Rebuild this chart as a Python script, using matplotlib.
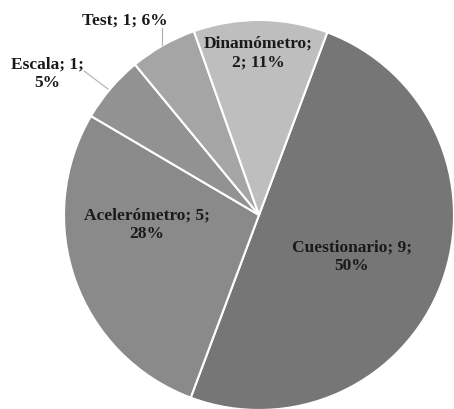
import matplotlib
matplotlib.use("Agg")
import matplotlib.pyplot as plt

categories = ["Cuestionario", "Acelerómetro", "Escala", "Test", "Dinamómetro"]
values = [9, 5, 1, 1, 2]
pct_labels = ["50%", "28%", "5%", "6%", "11%"]
colors = ["#767676", "#8a8a8a", "#929292", "#a5a5a5", "#bebebe"]

W, H = 454, 409
fig = plt.figure(figsize=(W / 100, H / 100), dpi=100)
cx, cy, R = 259, 215, 195
ax = fig.add_axes([(cx - R) / W, (H - cy - R) / H, 2 * R / W, 2 * R / H])

ax.pie(values, colors=colors, startangle=69.5, counterclock=False, radius=1,
       wedgeprops=dict(edgecolor="white", linewidth=1.5))
ax.set_xlim(-1, 1)
ax.set_ylim(-1, 1)
ax.set_aspect("equal")
ax.axis("off")

def px(x, y):
    return (x - cx) / R, (cy - y) / R

font = dict(family="Liberation Serif", weight="bold", size=12.5, color="#1a1a1a",
            ha="center", va="center", linespacing=1.2)

texts = [
    (f"{categories[0]}; {values[0]};\n{pct_labels[0]}", 352, 257),
    (f"{categories[1]}; {values[1]};\n{pct_labels[1]}", 147, 225),
    (f"{categories[2]}; {values[2]};\n{pct_labels[2]}", 47, 74),
    (f"{categories[3]}; {values[3]}; {pct_labels[3]}", 125, 21),
    (f"{categories[4]};\n{values[4]}; {pct_labels[4]}", 258, 53),
]
for t, x, y in texts:
    ax.text(*px(x, y), t, clip_on=False, **font)

# leader lines
for (x0, y0), (x1, y1) in [((84, 71), (108, 89)), ((162, 28), (162, 45))]:
    a, b = px(x0, y0)
    c, d = px(x1, y1)
    ax.plot([a, c], [b, d], color="#b0b0b0", lw=0.8, clip_on=False)

fig.savefig("out.png", dpi=100)
